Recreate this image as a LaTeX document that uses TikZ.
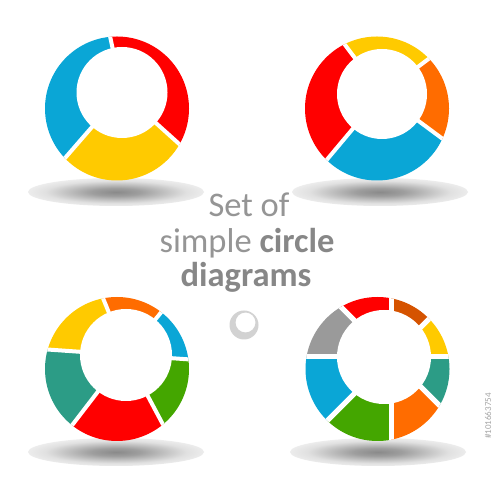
\documentclass[tikz,border=0pt]{standalone}
\usepackage{fontspec}
\setmainfont{Carlito}
\usepackage{tikz}
\usetikzlibrary{positioning}

\definecolor{cblue}{HTML}{0AA6D6}
\definecolor{cred}{HTML}{FF0000}
\definecolor{cyellow}{HTML}{FFCA00}
\definecolor{corange}{HTML}{FF6C00}
\definecolor{cteal}{HTML}{2C9C86}
\definecolor{cgreen}{HTML}{44A600}
\definecolor{cbrown}{HTML}{D55300}
\definecolor{cgray}{HTML}{9A9A9A}
\definecolor{captext}{HTML}{959595}
\definecolor{capbold}{HTML}{878787}

\pgfdeclareradialshading{floorshade}{\pgfpoint{0bp}{0bp}}{color(0bp)=(black!46); color(7bp)=(black!38); color(20bp)=(black!12); color(33bp)=(white); color(50bp)=(white)}

\begin{document}
\begin{tikzpicture}[x=1pt, y=1pt,
  gap/.style={white, line width=4pt},
  floor/.style={shading=floorshade},
  caption/.style={text=captext, font=\fontsize{34.5}{38}\selectfont, anchor=base, inner sep=0pt}]
  \useasboundingbox[fill=white] (0,0) rectangle (500,500);

  % shadows under the rings
  \foreach \x/\y in {116/308, 380/308, 116/48, 378/48}
    \shade[floor] (\x,\y) ellipse (88 and 14);

  % top left, three parts
  \begin{scope}[shift={(117,391.5)}]
    \coordinate (hole1) at (5,16);
    \clip (0,0) circle (72);
    \foreach \a/\b/\c in {102/229/cblue, 229/318/cyellow, 318/462/cred}
      \fill[\c] (hole1) -- ++(\a:160) arc[start angle=\a, end angle=\b, radius=160] -- cycle;
    \fill[white] (hole1) circle (45.5);
    \foreach \a in {102, 229, 318}
      \draw[gap] (hole1) -- ++(\a:160);
  \end{scope}

  % top right, four parts
  \begin{scope}[shift={(377,391.5)}]
    \coordinate (hole2) at (5,14.5);
    \clip (0,0) circle (72);
    \foreach \a/\b/\c in {37/127/cyellow, 127/230/cred, 230/323.5/cblue, 323.5/397/corange}
      \fill[\c] (hole2) -- ++(\a:160) arc[start angle=\a, end angle=\b, radius=160] -- cycle;
    \fill[white] (hole2) circle (45);
    \foreach \a in {37, 127, 230, 323.5}
      \draw[gap] (hole2) -- ++(\a:160);
  \end{scope}

  % bottom left, six parts
  \begin{scope}[shift={(117,131)}]
    \coordinate (hole3) at (9,14);
    \clip (0,0) circle (72);
    \foreach \a/\b/\c in {50.5/112/corange, 112/176/cyellow, 176/232.5/cteal, 232.5/298/cred, 298/356/cgreen, 356/410.5/cblue}
      \fill[\c] (hole3) -- ++(\a:160) arc[start angle=\a, end angle=\b, radius=160] -- cycle;
    \fill[white] (hole3) circle (46);
    \foreach \a in {50.5, 112, 176, 232.5, 298, 356}
      \draw[gap] (hole3) -- ++(\a:160);
  \end{scope}

  % bottom right, eight parts
  \begin{scope}[shift={(377.5,131)}]
    \coordinate (hole4) at (6.5,12);
    \coordinate (cut4) at (13.5,12);
    \clip (0,0) circle (72);
    \foreach \a/\b/\c in {0/45/cyellow, 45/90/cbrown, 90/135/cred, 135/180/cgray, 180/225/cblue, 225/270/cgreen, 270/315/corange, 315/360/cteal}
      \fill[\c] (cut4) -- ++(\a:160) arc[start angle=\a, end angle=\b, radius=160] -- cycle;
    \fill[white] (hole4) circle (47);
    \foreach \a in {0, 45, ..., 315}
      \draw[gap, line width=5pt] (cut4) -- ++(\a:160);
  \end{scope}

  \node[caption] (line1) at (249,283) {Set of};
  \node[caption] (line2) at (247,247) {simple \textcolor{capbold}{\textbf{circle}}};
  \node[caption, text=capbold] (line3) at (246,213) {\textbf{diagrams}};

  % small ring under the text
  \fill[gray!35, even odd rule] (244,175) circle (14.5) (245.5,177.5) circle (10);

  \node[rotate=90, text=gray!70, font=\fontsize{9}{10}\selectfont] (stockid) at (488,84) {\#101663754};
\end{tikzpicture}
\end{document}
